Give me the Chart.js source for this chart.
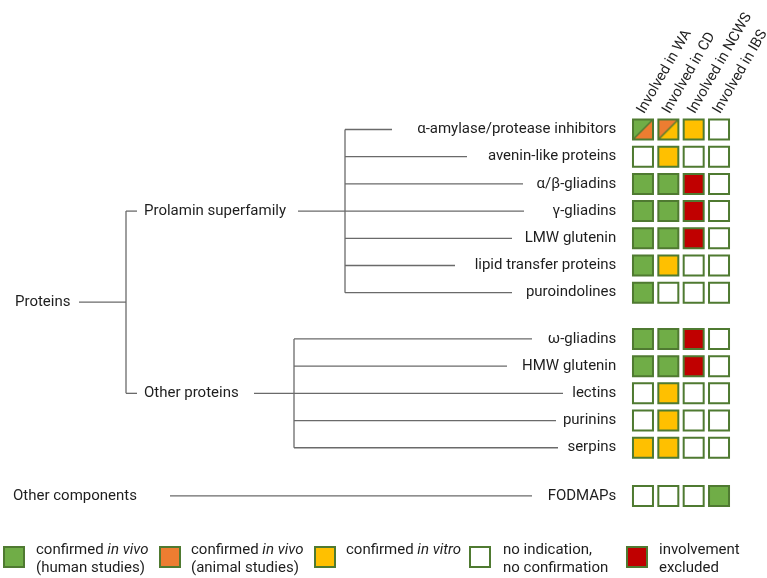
<!DOCTYPE html>
<html>
<head>
<meta charset="utf-8">
<script src="https://cdn.jsdelivr.net/npm/chart.js@4.4.1/dist/chart.umd.min.js"></script>
<style>
  html, body { margin: 0; padding: 0; background: #fff; }
</style>
</head>
<body>
<canvas id="chart" width="767" height="578"></canvas>
<script>
// ---------- Data ----------
const rowLabels = ['α-amylase/protease inhibitors', 'avenin-like proteins', 'α/β-gliadins', 'γ-gliadins',
  'LMW glutenin', 'lipid transfer proteins', 'puroindolines', 'ω-gliadins', 'HMW glutenin',
  'lectins', 'purinins', 'serpins', 'FODMAPs'];
const rowGroup    = [0, 0, 0, 0, 0, 0, 0, 1, 1, 1, 1, 1, 2];
const groupLabels = ['Prolamin superfamily', 'Other proteins', 'Other components'];
const rootLabel   = 'Proteins';   // parent of groups 0 and 1
const columns     = ['Involved in WA', 'Involved in CD', 'Involved in NCWS', 'Involved in IBS'];

// h = in vivo (human), a = in vivo (animal), v = in vitro, n = nothing, x = excluded
const involvedWA   = ['h/a', 'n', 'h', 'h', 'h', 'h', 'h', 'h', 'h', 'n', 'n', 'v', 'n'];
const involvedCD   = ['a/v', 'v', 'h', 'h', 'h', 'v', 'n', 'h', 'h', 'v', 'v', 'v', 'n'];
const involvedNCWS = ['v', 'n', 'x', 'x', 'x', 'n', 'n', 'x', 'x', 'n', 'n', 'n', 'n'];
const involvedIBS  = ['n', 'n', 'n', 'n', 'n', 'n', 'n', 'n', 'n', 'n', 'n', 'n', 'h'];

const legendKeys   = ['h', 'a', 'v', 'n', 'x'];
const legendLabels = [
  ['confirmed *in vivo*', '(human studies)'],
  ['confirmed *in vivo*', '(animal studies)'],
  ['confirmed *in vitro*'],
  ['no indication,', 'no confirmation'],
  ['involvement', 'excluded']
];

// ---------- Styles / layout ----------
const FONT = 'Roboto';
const TEXT = '#1e1e1e';
const COLORS = { h: '#70ad47', a: '#ed7d31', v: '#ffc000', n: '#ffffff', x: '#c00000' };
const CELL_BORDER = '#4f7a31';
const LINE = '#6a6a6a';

const ROW_GAP = [0, 0.7, 1.47];           // extra space before each group (row units)
const Y_AXIS_WIDTH = 630.3;
const X_AXIS_HEIGHT = 115.9;

const TREE = {
  rootX: 15, rootLine: [79, 126], tickEnd: 137,
  groupTextX: [144, 144, 13],
  groupLineStart: [298, 254, 170],
  bracketX: [345, 294, null],
  connectorEnd: [392, 467, 523, 524, 512, 455, 512, 532, 507, 563, 556, 558, 532]
};
const LEGEND = { boxX: [3, 159, 314, 469, 626], textX: [36, 191, 346, 503, 659], boxTop: 546, size: 22, lineY: [550, 568] };

function fitFontSize(text, width) {
  const c = document.createElement('canvas').getContext('2d');
  c.font = '100px ' + FONT;
  return Math.round(100 * width / c.measureText(text).width * 2) / 2;
}
const FS = fitFontSize('Prolamin superfamily', 141);

Chart.defaults.font.family = FONT;
Chart.defaults.font.size = FS;

// ---------- Helpers ----------
const rowValue = rowLabels.map((_, i) => i + ROW_GAP[rowGroup[i]]);
const series = [involvedWA, involvedCD, involvedNCWS, involvedIBS];

function splitCell(c1, c2) {
  const cv = document.createElement('canvas');
  cv.width = 24; cv.height = 24;
  const g = cv.getContext('2d');
  g.fillStyle = COLORS[c1];
  g.beginPath(); g.moveTo(2, 2); g.lineTo(22, 2); g.lineTo(2, 22); g.closePath(); g.fill();
  g.fillStyle = COLORS[c2];
  g.beginPath(); g.moveTo(22, 2); g.lineTo(22, 22); g.lineTo(2, 22); g.closePath(); g.fill();
  g.strokeStyle = CELL_BORDER;
  g.lineWidth = 1.5;
  g.beginPath(); g.moveTo(2, 22); g.lineTo(22, 2); g.stroke();
  g.lineWidth = 2;
  g.strokeRect(2, 2, 20, 20);
  return cv;
}

const codes = [...new Set(series.flat())];
const datasets = codes.map(code => ({
  label: code,
  data: series.flatMap((col, ci) =>
    col.map((c, ri) => (c === code ? { x: ci, y: rowValue[ri] } : null)).filter(Boolean)),
  pointStyle: code.includes('/') ? splitCell(...code.split('/')) : 'rect',
  pointRadius: 14.14,
  backgroundColor: COLORS[code] || '#fff',
  borderColor: CELL_BORDER,
  borderWidth: 2,
  clip: false
}));

// text with *italic* parts
function drawRich(ctx, str, x, y) {
  str.split('*').forEach((part, i) => {
    if (!part) return;
    ctx.font = (i % 2 ? 'italic ' : '') + FS + 'px ' + FONT;
    ctx.fillText(part, x, y);
    x += ctx.measureText(part).width;
  });
}

// ---------- Tree + legend plugin ----------
const treePlugin = {
  id: 'tree',
  afterDraw(chart) {
    const { ctx } = chart;
    const y = chart.scales.y;
    const py = v => y.getPixelForValue(v);
    const hline = (x1, x2, yy) => { ctx.beginPath(); ctx.moveTo(x1, yy); ctx.lineTo(x2, yy); ctx.stroke(); };
    const vline = (xx, y1, y2) => { ctx.beginPath(); ctx.moveTo(xx, y1); ctx.lineTo(xx, y2); ctx.stroke(); };

    ctx.save();
    ctx.strokeStyle = LINE;
    ctx.lineWidth = 1.3;
    ctx.fillStyle = TEXT;
    ctx.textBaseline = 'middle';
    ctx.textAlign = 'left';
    ctx.font = FS + 'px ' + FONT;

    const groupY = [];
    groupLabels.forEach((name, g) => {
      const rows = rowGroup.map((gg, i) => (gg === g ? i : -1)).filter(i => i >= 0);
      const mid = rows[Math.floor(rows.length / 2)];
      const gy = py(rowValue[mid]);
      groupY.push(gy);
      ctx.fillText(name, TREE.groupTextX[g], gy);
      hline(TREE.groupLineStart[g], TREE.connectorEnd[mid], gy);
      if (TREE.bracketX[g] != null) {
        const bx = TREE.bracketX[g];
        vline(bx, py(rowValue[rows[0]]), py(rowValue[rows[rows.length - 1]]));
        rows.forEach(r => { if (r !== mid) hline(bx, TREE.connectorEnd[r], py(rowValue[r])); });
      }
    });

    // root bracket joining the two protein groups
    const ry = (groupY[0] + groupY[1]) / 2;
    ctx.fillText(rootLabel, TREE.rootX, ry);
    hline(TREE.rootLine[0], TREE.rootLine[1], ry);
    vline(TREE.rootLine[1], groupY[0], groupY[1]);
    hline(TREE.rootLine[1], TREE.tickEnd, groupY[0]);
    hline(TREE.rootLine[1], TREE.tickEnd, groupY[1]);

    // legend
    legendKeys.forEach((k, i) => {
      ctx.fillStyle = COLORS[k];
      ctx.fillRect(LEGEND.boxX[i], LEGEND.boxTop, LEGEND.size, LEGEND.size);
      ctx.strokeStyle = CELL_BORDER;
      ctx.lineWidth = 2;
      ctx.strokeRect(LEGEND.boxX[i] + 1, LEGEND.boxTop + 1, LEGEND.size - 2, LEGEND.size - 2);
      ctx.fillStyle = TEXT;
      legendLabels[i].forEach((line, li) => drawRich(ctx, line, LEGEND.textX[i], LEGEND.lineY[li]));
    });
    ctx.restore();
  }
};

// ---------- Chart ----------
new Chart(document.getElementById('chart'), {
  type: 'scatter',
  data: { datasets },
  options: {
    responsive: false,
    animation: false,
    events: [],
    layout: { autoPadding: false, padding: { top: 0, left: 0, right: 35.3, bottom: 67.7 } },
    plugins: { legend: { display: false }, tooltip: { enabled: false } },
    scales: {
      x: {
        type: 'linear', position: 'top', min: -0.5, max: 3.5,
        grid: { display: false, drawTicks: false }, border: { display: false },
        afterBuildTicks: s => { s.ticks = columns.map((_, i) => ({ value: i })); },
        afterFit: s => { s.height = X_AXIS_HEIGHT; s.paddingLeft = 0; s.paddingRight = 0; },
        ticks: { autoSkip: false, minRotation: 60, maxRotation: 60, padding: -1, labelOffset: 13,
          color: TEXT, font: { size: FS - 0.5 }, callback: (v, i) => columns[i] }
      },
      y: {
        type: 'linear', position: 'left', reverse: true, min: -0.5, max: 14,
        grid: { display: false, drawTicks: false }, border: { display: false },
        afterBuildTicks: s => { s.ticks = rowValue.map(v => ({ value: v })); },
        afterFit: s => { s.width = Y_AXIS_WIDTH; s.paddingTop = 0; s.paddingBottom = 0; },
        ticks: { autoSkip: false, padding: 14, color: TEXT, callback: (v, i) => rowLabels[i] }
      }
    }
  },
  plugins: [treePlugin]
});
</script>
</body>
</html>
